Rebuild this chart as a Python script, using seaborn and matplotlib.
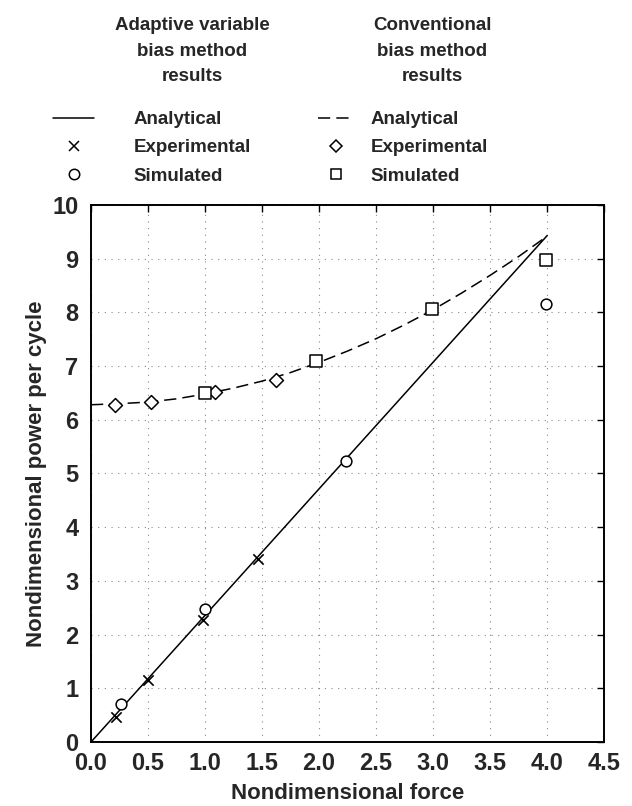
import matplotlib
matplotlib.use('Agg')
import matplotlib.pyplot as plt
import seaborn as sns
from matplotlib.lines import Line2D

# adaptive variable bias method
adaptive_line_x = [0.0, 4.0]
adaptive_line_y = [0.0, 9.43]
adaptive_exp_x = [0.22, 0.50, 0.98, 1.46]
adaptive_exp_y = [0.47, 1.15, 2.27, 3.41]
adaptive_sim_x = [0.26, 1.00, 2.24, 3.99]
adaptive_sim_y = [0.70, 2.48, 5.24, 8.16]

# conventional bias method
conv_line_x = [0.0, 0.25, 0.5, 0.75, 1.0, 1.25, 1.5, 1.75, 2.0,
               2.25, 2.5, 2.75, 3.0, 3.25, 3.5, 3.75, 4.0]
conv_line_y = [6.28, 6.30, 6.33, 6.39, 6.48, 6.59, 6.72, 6.88, 7.07,
               7.28, 7.51, 7.77, 8.05, 8.36, 8.69, 9.04, 9.42]
conv_exp_x = [0.21, 0.53, 1.09, 1.62]
conv_exp_y = [6.28, 6.33, 6.52, 6.75]
conv_sim_x = [1.00, 1.97, 2.99, 3.99]
conv_sim_y = [6.49, 7.09, 8.07, 8.98]

x_ticks = [0.0, 0.5, 1.0, 1.5, 2.0, 2.5, 3.0, 3.5, 4.0, 4.5]
x_tick_labels = ['0.0', '0.5', '1.0', '1.5', '2.0', '2.5', '3.0', '3.5', '4.0', '4.5']
y_ticks = [0, 1, 2, 3, 4, 5, 6, 7, 8, 9, 10]

dash = (0, (8, 4))

sns.set_style('white')
plt.rcParams['font.family'] = ['Liberation Sans', 'DejaVu Sans']
plt.rcParams['font.weight'] = 'bold'

fig = plt.figure(figsize=(6.32, 8.06), dpi=100)
ax = fig.add_axes([0.144, 0.0794, 0.812, 0.6663])

sns.lineplot(x=adaptive_line_x, y=adaptive_line_y, color='black', lw=1.1,
             estimator=None, ax=ax)
sns.lineplot(x=conv_line_x, y=conv_line_y, color='black', lw=1.1,
             estimator=None, ax=ax, dashes=False, linestyle=dash)

sns.scatterplot(x=adaptive_exp_x, y=adaptive_exp_y, marker='x', s=55,
                color='black', linewidth=1.2, ax=ax, zorder=3)
sns.scatterplot(x=adaptive_sim_x, y=adaptive_sim_y, marker='o', s=60,
                color='white', edgecolor='black', linewidth=1.1, ax=ax, zorder=3)
sns.scatterplot(x=conv_exp_x, y=conv_exp_y, marker='D', s=50,
                color='white', edgecolor='black', linewidth=1.1, ax=ax, zorder=3)
sns.scatterplot(x=conv_sim_x, y=conv_sim_y, marker='s', s=70,
                color='white', edgecolor='black', linewidth=1.1, ax=ax, zorder=3)

ax.set_xlim(0, 4.5)
ax.set_ylim(0, 10)
ax.set_xticks(x_ticks)
ax.set_xticklabels(x_tick_labels)
ax.set_yticks(y_ticks)
ax.tick_params(direction='in', top=True, right=True, length=5, width=1,
               labelsize=17, color='black')
ax.tick_params(axis='x', pad=7)
ax.tick_params(axis='y', pad=9)
for lab in ax.get_xticklabels() + ax.get_yticklabels():
    lab.set_fontweight('bold')
for s in ax.spines.values():
    s.set_color('black')
    s.set_linewidth(1.4)
ax.grid(True, color='#888888', linestyle=(0, (1, 5)), linewidth=0.8)

ax.set_xlabel('Nondimensional force', fontsize=16, fontweight='bold', labelpad=6)
ax.set_ylabel('Nondimensional power per cycle', fontsize=16, fontweight='bold', labelpad=4)

fig.text(192 / 632, 1 - 51 / 806, 'Adaptive variable\nbias method\nresults',
         ha='center', va='center', fontsize=13.5, fontweight='bold', linespacing=1.65)
fig.text(432 / 632, 1 - 51 / 806, 'Conventional\nbias method\nresults',
         ha='center', va='center', fontsize=13.5, fontweight='bold', linespacing=1.65)

left_handles = [
    Line2D([], [], color='black', lw=1.1),
    Line2D([], [], color='black', marker='x', ls='none', markersize=7, mew=1.1),
    Line2D([], [], color='black', marker='o', ls='none', markersize=7.5,
           mfc='white', mew=1.1),
]
right_handles = [
    Line2D([], [], color='black', lw=1.1, ls=dash),
    Line2D([], [], color='black', marker='D', ls='none', markersize=6.5,
           mfc='white', mew=1.1),
    Line2D([], [], color='black', marker='s', ls='none', markersize=7,
           mfc='white', mew=1.1),
]
labels = ['Analytical', 'Experimental', 'Simulated']

leg1 = fig.legend(left_handles, labels, loc='upper left',
                  bbox_to_anchor=(53 / 632, 1 - 111 / 806), frameon=False,
                  borderpad=0, borderaxespad=0, handlelength=2.2,
                  handletextpad=2.1, labelspacing=0.6, numpoints=1,
                  prop={'size': 13.5, 'weight': 'bold'})
leg2 = fig.legend(right_handles, labels, loc='upper left',
                  bbox_to_anchor=(318 / 632, 1 - 111 / 806), frameon=False,
                  borderpad=0, borderaxespad=0, handlelength=1.9,
                  handletextpad=0.9, labelspacing=0.6, numpoints=1,
                  prop={'size': 13.5, 'weight': 'bold'})

fig.savefig('out.png', dpi=100)
